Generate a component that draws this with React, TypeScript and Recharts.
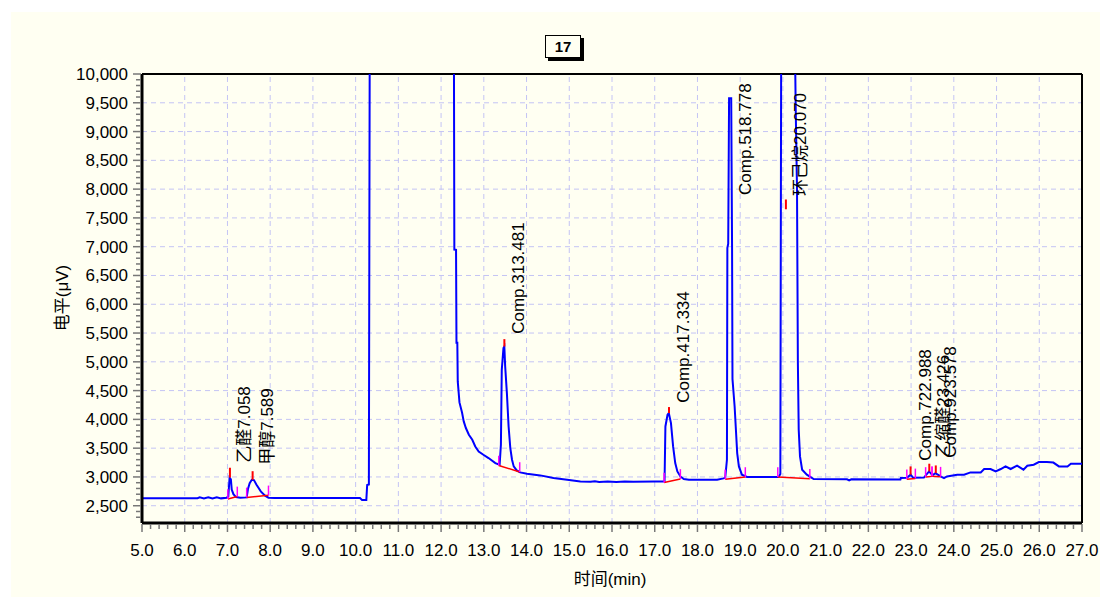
import {
  LineChart,
  Line,
  XAxis,
  YAxis,
  Scatter,
  ReferenceLine,
} from "recharts";

// retention time (min) / detector level (uV)
const times = [
  5.0, 6.3, 6.35, 6.45, 6.55, 6.65, 6.75, 6.85, 6.98, 7.02, 7.05, 7.08, 7.1, 7.14, 7.2, 7.3,
  7.45, 7.48, 7.52, 7.57, 7.62, 7.68, 7.78, 7.88, 7.96, 8.1, 9.0, 10.1, 10.15, 10.25, 10.27,
  10.31, 10.33, 12.3, 12.31, 12.35, 12.36, 12.38, 12.39, 12.43, 12.49, 12.53, 12.58, 12.65,
  12.73, 12.8, 12.88, 12.99, 13.11, 13.27, 13.37, 13.4, 13.42, 13.46, 13.48, 13.5, 13.54,
  13.58, 13.62, 13.66, 13.7, 13.77, 13.85, 14.01, 14.32, 14.63, 14.95, 15.26, 15.5, 15.6,
  15.7, 15.9, 16.1, 16.3, 16.5, 17.0, 17.2, 17.23, 17.25, 17.3, 17.33, 17.38, 17.43, 17.48,
  17.53, 17.6, 17.68, 17.8, 18.46, 18.61, 18.65, 18.69, 18.7, 18.72, 18.74, 18.79, 18.81,
  18.82, 18.87, 18.9, 18.93, 18.97, 19.04, 19.16, 19.9, 19.94, 19.96, 20.28, 20.3, 20.33,
  20.35, 20.37, 20.4, 20.45, 20.56, 20.72, 21.5, 21.55, 21.6, 22.75, 22.76, 22.9, 22.99,
  23.05, 23.3, 23.42, 23.5, 23.57, 23.69, 23.77, 23.84, 24.08, 24.24, 24.39, 24.63, 24.71,
  24.86, 24.98, 25.1, 25.21, 25.33, 25.48, 25.63, 25.72, 25.87, 25.99, 26.18, 26.33, 26.46,
  26.66, 26.74, 27.0,
];
const signal = [
  2630, 2630, 2645, 2625, 2645, 2625, 2645, 2628, 2640, 2660, 2990, 2960, 2780, 2700, 2650, 2640,
  2645, 2790, 2890, 2950, 2945, 2865, 2750, 2675, 2640, 2635, 2635, 2635, 2600, 2600, 2860,
  2870, 10600, 10600, 6950, 6945, 5330, 5330, 4660, 4295, 4120, 3965, 3850, 3733,
  3646, 3530, 3443, 3386, 3328, 3241, 3212, 3560, 4860, 5238, 5266, 4919, 4457,
  3877, 3502, 3299, 3183, 3114, 3079, 3056, 3027, 2981, 2952, 2923, 2915, 2925,
  2912, 2920, 2912, 2920, 2918, 2920, 2920, 2925, 3877, 4080, 4110, 3936, 3530, 3241,
  3096, 3009, 2964, 2952, 2952, 2975, 2985, 3299, 6980, 7050, 9580, 9580, 7000,
  4700, 4224, 3820, 3415, 3183, 3039, 2999, 2999, 3050, 10600, 10600, 9375, 8000,
  5000, 3820, 3357, 3126, 3039, 2964, 2960, 2940, 2960, 2955, 2981, 2985, 3039,
  2985, 2990, 3096, 3030, 3067, 3009, 2981, 3009, 3039, 3039, 3079, 3079, 3138,
  3138, 3096, 3138, 3183, 3138, 3195, 3126, 3195, 3212, 3258, 3258, 3250, 3183,
  3183, 3230, 3230,
];

// integrated peaks
const peakNames = ["乙醛", "甲醇", "Comp.3", "Comp.4", "Comp.5", "环己烷", "Comp.7", "乙缩醛", "Comp.9"];
const peakTimes = [7.058, 7.589, 13.481, 17.334, 18.778, 20.07, 22.988, 23.426, 23.578];
const apexLow = [2990, 2950, 5266, 4110, 9580, 7650, 3039, 3096, 3067];
const apexHigh = [3160, 3100, 5394, 4214, 9580, 7820, 3183, 3230, 3200];
const labelLevel = [3212, 3177, 5452, 4254, 7865, 7847, 3247, 3299, 3299];
const baseStartT = [7.01, 7.45, 13.35, 17.22, 18.65, 19.88, 22.9, 23.34, 23.49];
const baseStartV = [2617, 2645, 3200, 2905, 2960, 2999, 2960, 3000, 3010];
const baseEndT = [7.23, 7.96, 13.84, 17.6, 19.12, 20.63, 23.1, 23.49, 23.69];
const baseEndV = [2662, 2680, 3086, 2965, 2999, 2970, 2975, 3010, 3005];

const xTicks = [5, 6, 7, 8, 9, 10, 11, 12, 13, 14, 15, 16, 17, 18, 19, 20, 21, 22, 23, 24, 25, 26, 27];
const yTicks = [2500, 3000, 3500, 4000, 4500, 5000, 5500, 6000, 6500, 7000, 7500, 8000, 8500, 9000, 9500, 10000];

const xMinor = Array.from({ length: 111 }, (_, i) => +(5 + i * 0.2).toFixed(1));
const yMinor = Array.from({ length: 78 }, (_, i) => 2300 + i * 100);

const FONT = "'Liberation Sans', Arial, 'Noto Sans CJK SC', sans-serif";
const CREAM = "#fffff2";
const GRID = "#c4c4f4";

const data = times.map((t, i) => ({ t, v: signal[i] }));
const labels = peakTimes.map((t, i) => ({
  t,
  v: labelLevel[i],
  text: peakNames[i] + t.toFixed(3),
}));

const XTick = (props: any) => {
  const { x, y, payload } = props;
  const major = Math.abs(payload.value - Math.round(payload.value)) < 1e-6;
  return (
    <g>
      <line x1={x} x2={x} y1={y + 1} y2={y + (major ? 9 : 6)} stroke="#777" strokeWidth={1.5} />
      {major && (
        <text x={x} y={y + 33} textAnchor="middle" fontSize={17} fontFamily={FONT} fill="#000">
          {payload.value.toFixed(1)}
        </text>
      )}
    </g>
  );
};

const YTick = (props: any) => {
  const { x, y, payload } = props;
  const major = payload.value % 500 === 0;
  return (
    <g>
      <line x1={x - (major ? 9 : 6)} x2={x - 1} y1={y} y2={y} stroke="#777" strokeWidth={1.5} />
      {major && (
        <text x={x - 14} y={y + 6} textAnchor="end" fontSize={17} fontFamily={FONT} fill="#000">
          {payload.value.toLocaleString("en-US")}
        </text>
      )}
    </g>
  );
};

const PeakLabel = (props: any) => {
  const { cx, cy, payload } = props;
  const x = cx + 20;
  const y = cy - 2;
  return (
    <text
      x={x}
      y={y}
      transform={`rotate(-90 ${x} ${y})`}
      fontSize={17}
      fontFamily={FONT}
      fill="#000"
    >
      {payload.text}
    </text>
  );
};

export default function App() {
  return (
    <div style={{ position: "absolute", left: 0, top: 0, width: 1105, height: 597, background: "#fff", fontFamily: FONT }}>
      <div style={{ position: "absolute", left: 11, top: 12, width: 1089, height: 585, background: CREAM }} />
      <div style={{ position: "absolute", left: 0, top: 0 }}>
        <LineChart width={1105} height={597} data={data} margin={{ top: 74, right: 23, bottom: 34, left: 62 }}>
          <XAxis
            dataKey="t"
            type="number"
            domain={[5, 27]}
            ticks={xMinor}
            interval={0}
            height={40}
            tickSize={0}
            tickMargin={0}
            tickLine={false}
            tick={<XTick />}
            axisLine={{ stroke: "#000", strokeWidth: 3 }}
            allowDataOverflow
          />
          <YAxis
            type="number"
            domain={[2200, 10000]}
            ticks={yMinor}
            interval={0}
            width={80}
            tickSize={0}
            tickMargin={0}
            tickLine={false}
            tick={<YTick />}
            axisLine={{ stroke: "#000", strokeWidth: 3 }}
            allowDataOverflow
          />
          {xTicks.slice(1, -1).map((t) => (
            <ReferenceLine key={"gx" + t} x={t} stroke={GRID} strokeDasharray="5 4" />
          ))}
          {yTicks.slice(0, -1).map((v) => (
            <ReferenceLine key={"gy" + v} y={v} stroke={GRID} strokeDasharray="5 4" />
          ))}
          <ReferenceLine y={10000} stroke="#000" strokeWidth={2} />
          <ReferenceLine x={27} stroke="#000" strokeWidth={2} />
          <Line
            dataKey="v"
            type="linear"
            stroke="#0000ff"
            strokeWidth={2}
            dot={false}
            isAnimationActive={false}
          />
          {peakTimes.map((t, i) => (
            <ReferenceLine
              key={"b" + i}
              segment={[{ x: baseStartT[i], y: baseStartV[i] }, { x: baseEndT[i], y: baseEndV[i] }]}
              stroke="#ff0000"
              strokeWidth={1.5}
            />
          ))}
          {peakTimes.map((t, i) => (
            <ReferenceLine
              key={"ms" + i}
              segment={[{ x: baseStartT[i], y: baseStartV[i] }, { x: baseStartT[i], y: baseStartV[i] + 170 }]}
              stroke="#ff00ff"
              strokeWidth={1.5}
            />
          ))}
          {peakTimes.map((t, i) => (
            <ReferenceLine
              key={"me" + i}
              segment={[{ x: baseEndT[i], y: baseEndV[i] }, { x: baseEndT[i], y: baseEndV[i] + 170 }]}
              stroke="#ff00ff"
              strokeWidth={1.5}
            />
          ))}
          {peakTimes.map((t, i) => (
            <ReferenceLine
              key={"a" + i}
              segment={[{ x: t, y: apexLow[i] }, { x: t, y: apexHigh[i] }]}
              stroke="#ff0000"
              strokeWidth={2}
            />
          ))}
          <Scatter data={labels} dataKey="v" shape={<PeakLabel />} isAnimationActive={false} />
        </LineChart>
      </div>
      <div
        style={{
          position: "absolute",
          left: 545,
          top: 35,
          width: 34,
          height: 21,
          border: "1px solid #000",
          background: CREAM,
          boxShadow: "3px 3px 0 #000",
          fontWeight: "bold",
          fontSize: 15,
          lineHeight: "21px",
          textAlign: "center",
        }}
      >
        17
      </div>
      <div
        style={{
          position: "absolute",
          left: 60,
          top: 298,
          transform: "translate(-50%, -50%) rotate(-90deg)",
          fontSize: 17,
          whiteSpace: "nowrap",
        }}
      >
        电平(μV)
      </div>
      <div
        style={{
          position: "absolute",
          left: 610,
          top: 577,
          transform: "translate(-50%, -50%)",
          fontSize: 17,
          whiteSpace: "nowrap",
        }}
      >
        时间(min)
      </div>
    </div>
  );
}
